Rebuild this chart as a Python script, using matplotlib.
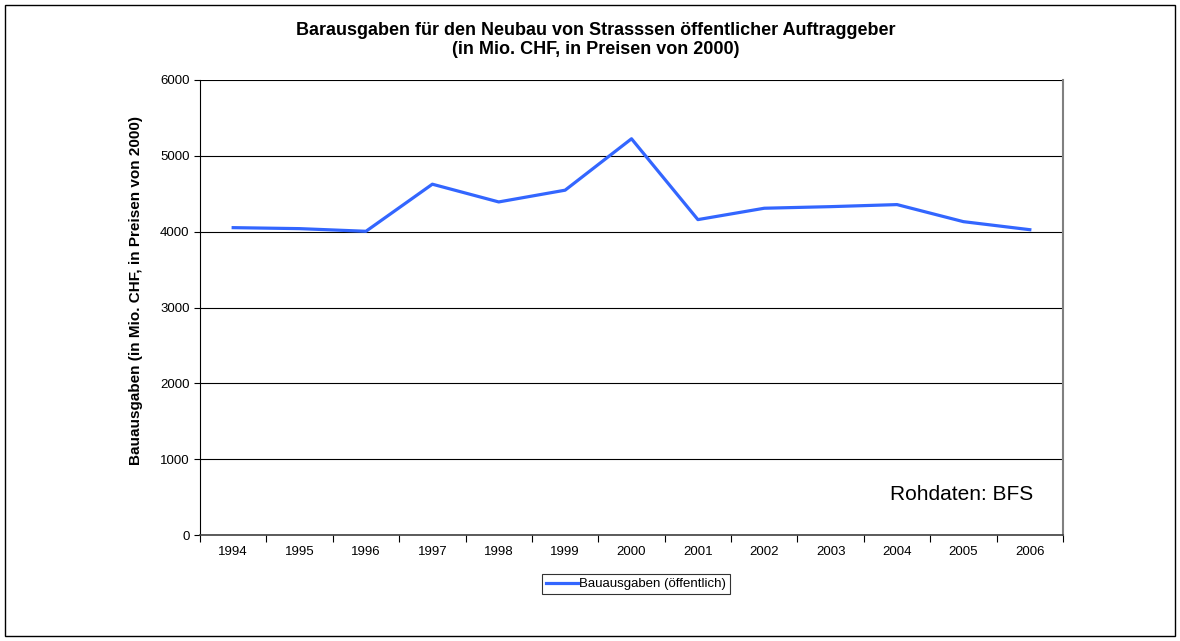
import matplotlib.pyplot as plt
from matplotlib.patches import Rectangle

years = ["1994", "1995", "1996", "1997", "1998", "1999", "2000",
         "2001", "2002", "2003", "2004", "2005", "2006"]
ausgaben = [4053, 4040, 4005, 4626, 4392, 4547, 5225,
            4159, 4309, 4330, 4357, 4132, 4026]
yticks = [0, 1000, 2000, 3000, 4000, 5000, 6000]

plt.rcParams['font.family'] = ['Liberation Sans', 'DejaVu Sans']

fig = plt.figure(figsize=(11.8, 6.41), dpi=100)
# outer chart border
fig.patches.append(Rectangle((5 / 1180, 5 / 641), 1170 / 1180, 631 / 641,
                             transform=fig.transFigure, fill=False,
                             edgecolor='black', linewidth=1))

ax = fig.add_axes([200 / 1180, 1 - 535 / 641, 863 / 1180, 455 / 641])
x = list(range(len(years)))
ax.plot(x, ausgaben, color='#3366FF', linewidth=2.3,
        label='Bauausgaben (öffentlich)', zorder=3)

ax.set_xlim(-0.5, len(years) - 0.5)
ax.set_ylim(0, 6000)
ax.set_yticks(yticks)
ax.tick_params(axis='y', labelsize=9.5, length=4, width=0.8, direction='out')
ax.set_xticks([i - 0.5 for i in range(len(years) + 1)])
ax.set_xticklabels([])
ax.set_xticks(x, minor=True)
ax.set_xticklabels(years, minor=True)
ax.tick_params(axis='x', which='major', length=5, width=0.8, direction='out')
ax.tick_params(axis='x', which='minor', length=0, labelsize=9.5, pad=8)

ax.grid(axis='y', color='black', linewidth=0.8)
ax.set_axisbelow(True)
ax.spines['top'].set_visible(False)
ax.spines['right'].set_color('#808080')
ax.spines['right'].set_linewidth(1.5)
ax.spines['left'].set_linewidth(0.8)
ax.spines['bottom'].set_linewidth(1.2)
ax.spines['bottom'].set_color('#404040')

ax.set_ylabel('Bauausgaben (in Mio. CHF, in Preisen von 2000)',
              fontsize=11, fontweight='bold')
ax.yaxis.set_label_coords(-0.066, 0.538)
fig.text(596 / 1180, 1 - 40 / 641,
         'Barausgaben für den Neubau von Strasssen öffentlicher Auftraggeber\n(in Mio. CHF, in Preisen von 2000)',
         ha='center', va='center', fontsize=13, fontweight='bold', linespacing=1.1)
ax.text(0.966, 0.088, 'Rohdaten: BFS', transform=ax.transAxes,
        ha='right', va='center', fontsize=15)

leg = fig.legend(loc='center', bbox_to_anchor=(636 / 1180, 1 - 584 / 641),
                 fontsize=9.5, frameon=True, fancybox=False, handlelength=2.4,
                 handletextpad=0.1, borderpad=0.3, borderaxespad=0)
leg.get_frame().set_edgecolor('black')
leg.get_frame().set_linewidth(0.8)

plt.savefig('out.png', dpi=100)
